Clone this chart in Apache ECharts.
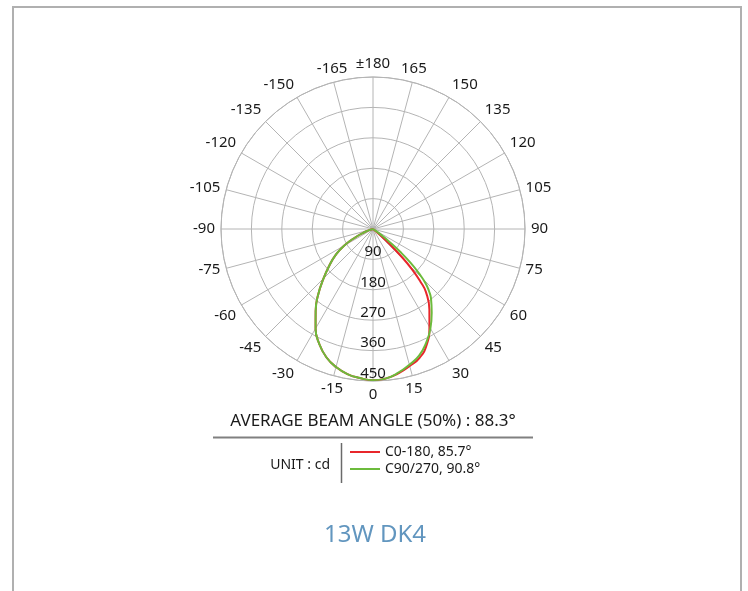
<!DOCTYPE html>
<html>
<head>
<meta charset="utf-8">
<script src="https://cdn.jsdelivr.net/npm/echarts@6/dist/echarts.min.js"></script>
<style>
  html, body { margin: 0; padding: 0; background: #fff; }
  .frame {
    position: absolute; left: 12px; top: 6px; width: 726px; height: 620px;
    border: 2px solid #b0b0b0; border-bottom: none;
  }
  #chart_polar { position: absolute; left: 0; top: 0; width: 748px; height: 591px; }
</style>
</head>
<body>
<div class="frame"></div>
<div id="chart_polar"></div>
<script>
// angles in degrees, 0 = nadir, negative = left half
const angles = [-80, -75, -70, -65, -60, -55, -50, -45, -40, -35, -30, -25, -20, -15, -10, -5,
  0, 5, 10, 15, 20, 25, 30, 35, 40, 42, 44, 46, 48, 50, 52, 54, 56, 58];
// intensity, cd
const c0_180 = [0, 5, 24, 56, 100, 136, 169, 207, 252, 296, 340, 376, 404, 423, 436, 443,
  448, 444, 434, 420, 405, 377, 334, 291, 244, 210, 168, 115, 62, 22, 4, 0, 0, 0];
const c90_270 = [0, 5, 24, 56, 100, 136, 169, 207, 252, 296, 340, 376, 404, 423, 436, 443,
  448, 444, 432, 416, 399, 372, 340, 303, 267, 248, 225, 190, 150, 105, 62, 32, 10, 0];
const seriesNames = ["C0-180, 85.7°", "C90/270, 90.8°"];
const seriesColors = ["#e8262b", "#6cbb3c"];
const radiusTicks = { min: 0, max: 450, interval: 90 };
const angleTicks = { min: 0, max: 360, interval: 15 };

let myChart = echarts.init(document.getElementById("chart_polar"));

function toPoints(values) {
  // angle axis runs 0..360, left half stored as negative degrees
  return angles.map((a, i) => [values[i], (a + 360) % 360]);
}

const gridColor = "#b4b4b4";
const textColor = "#1a1a1a";

let option = {
  animation: false,
  polar: { center: [373, 229], radius: 152 },
  angleAxis: {
    type: "value",
    min: angleTicks.min,
    max: angleTicks.max,
    interval: angleTicks.interval,
    startAngle: 270,
    clockwise: false,
    axisLine: { show: true, lineStyle: { color: gridColor, width: 1 } },
    axisTick: { show: false },
    axisLabel: {
      margin: 6,
      fontSize: 15,
      color: textColor,
      fontFamily: "Noto Sans",
      formatter: (v) => (v === 180 ? "±180" : v > 180 ? String(v - 360) : String(v)),
    },
    splitLine: { show: true, lineStyle: { color: gridColor, width: 1 } },
  },
  radiusAxis: {
    type: "value",
    min: radiusTicks.min,
    max: radiusTicks.max,
    interval: radiusTicks.interval,
    axisLine: { show: false },
    axisTick: { show: false },
    axisLabel: {
      showMinLabel: false,
      margin: 0,
      align: "center",
      verticalAlign: "bottom",
      fontSize: 15,
      color: textColor,
      fontFamily: "Noto Sans",
    },
    splitLine: { show: true, lineStyle: { color: gridColor, width: 1 } },
  },
  legend: {
    orient: "vertical",
    left: 350,
    top: 445,
    padding: 0,
    icon: "rect",
    itemWidth: 30,
    itemHeight: 2,
    itemGap: 3,
    selectedMode: false,
    textStyle: { fontSize: 14, color: textColor, fontFamily: "Noto Sans" },
    data: seriesNames,
  },
  series: [
    {
      name: seriesNames[0],
      type: "line",
      coordinateSystem: "polar",
      data: toPoints(c0_180),
      smooth: 0.5,
      symbol: "none",
      lineStyle: { color: seriesColors[0], width: 2 },
      itemStyle: { color: seriesColors[0] },
      z: 3,
    },
    {
      name: seriesNames[1],
      type: "line",
      coordinateSystem: "polar",
      data: toPoints(c90_270),
      smooth: 0.5,
      symbol: "none",
      lineStyle: { color: seriesColors[1], width: 2 },
      itemStyle: { color: seriesColors[1] },
      z: 4,
    },
  ],
  graphic: [
    {
      type: "text", x: 373, y: 421,
      style: { text: "AVERAGE BEAM ANGLE (50%) : 88.3°", fontSize: 17, fill: textColor, align: "center", verticalAlign: "middle", fontFamily: "Noto Sans" },
    },
    {
      type: "line",
      shape: { x1: 213, y1: 437.5, x2: 533, y2: 437.5 },
      style: { stroke: "#808080", lineWidth: 2 },
    },
    {
      type: "text", x: 330, y: 465,
      style: { text: "UNIT : cd", fontSize: 14, fill: textColor, align: "right", verticalAlign: "middle", fontFamily: "Noto Sans" },
    },
    {
      type: "line",
      shape: { x1: 341.5, y1: 443, x2: 341.5, y2: 483 },
      style: { stroke: "#6a6a6a", lineWidth: 1.5 },
    },
    {
      type: "text", x: 375, y: 535,
      style: { text: "13W DK4", fontSize: 24, fill: "#6296bf", align: "center", verticalAlign: "middle", fontFamily: "Noto Sans" },
    },
  ],
};
myChart.setOption(option, true);

window.addEventListener("resize", () => {
  myChart.resize();
});
</script>
</body>
</html>
